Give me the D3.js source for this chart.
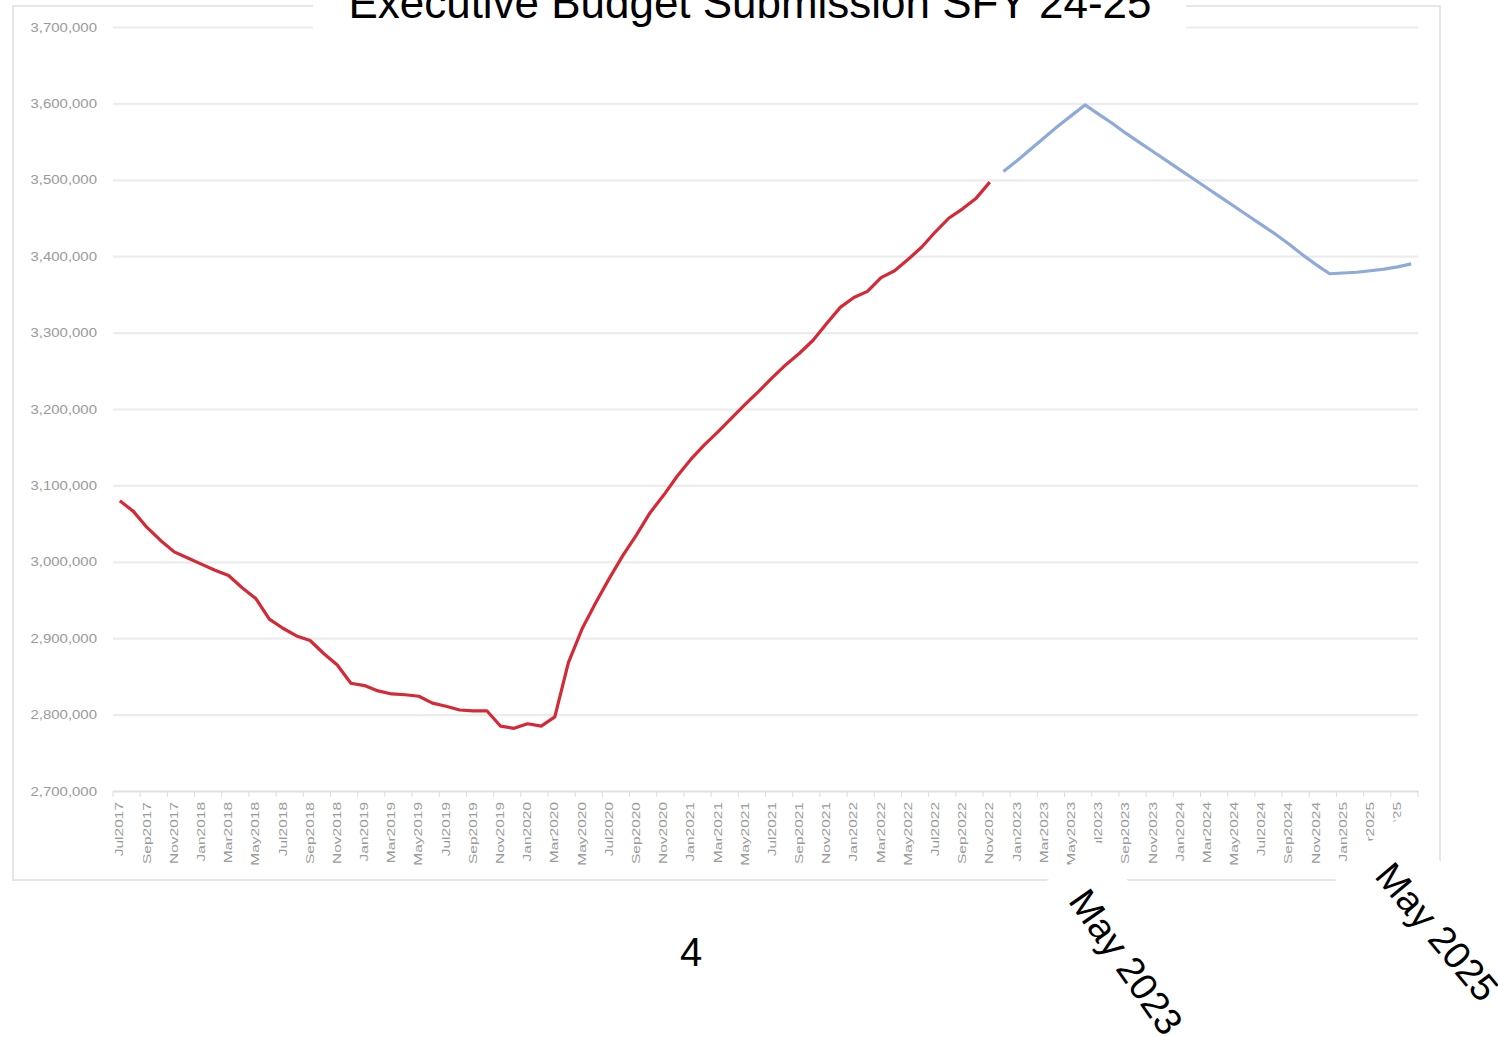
<!DOCTYPE html>
<html>
<head>
<meta charset="utf-8">
<script src="https://cdn.jsdelivr.net/npm/d3@7"></script>
<style>
  body { margin: 0; background: #fff; }
  svg { display: block; font-family: "Liberation Sans", Arial, sans-serif; }
</style>
</head>
<body>
<svg id="chart" width="1498" height="1037"></svg>
<script>
// categories, one row per year
const months = [
  'Jul2017','Aug2017','Sep2017','Oct2017','Nov2017','Dec2017',
  'Jan2018','Feb2018','Mar2018','Apr2018','May2018','Jun2018','Jul2018','Aug2018','Sep2018','Oct2018','Nov2018','Dec2018',
  'Jan2019','Feb2019','Mar2019','Apr2019','May2019','Jun2019','Jul2019','Aug2019','Sep2019','Oct2019','Nov2019','Dec2019',
  'Jan2020','Feb2020','Mar2020','Apr2020','May2020','Jun2020','Jul2020','Aug2020','Sep2020','Oct2020','Nov2020','Dec2020',
  'Jan2021','Feb2021','Mar2021','Apr2021','May2021','Jun2021','Jul2021','Aug2021','Sep2021','Oct2021','Nov2021','Dec2021',
  'Jan2022','Feb2022','Mar2022','Apr2022','May2022','Jun2022','Jul2022','Aug2022','Sep2022','Oct2022','Nov2022','Dec2022',
  'Jan2023','Feb2023','Mar2023','Apr2023','May2023','Jun2023','Jul2023','Aug2023','Sep2023','Oct2023','Nov2023','Dec2023',
  'Jan2024','Feb2024','Mar2024','Apr2024','May2024','Jun2024','Jul2024','Aug2024','Sep2024','Oct2024','Nov2024','Dec2024',
  'Jan2025','Feb2025','Mar2025','Apr2025','May2025','Jun2025'
];

// actual enrollment, Jul2017 - Nov2022
const actual = [
  3080000,3066000,3045000,3028000,3013000,3005000,2997000,2989000,2982000,2966000,
  2952000,2925000,2913000,2903000,2897000,2880000,2865000,2841000,2838000,2831000,
  2827000,2826000,2824000,2815000,2811000,2806000,2805000,2805000,2785000,2782000,
  2788000,2785000,2797000,2868000,2912000,2946000,2978000,3008000,3035000,3064000,
  3087000,3112000,3134000,3153000,3170000,3188000,3206000,3223000,3241000,3258000,
  3273000,3290000,3312000,3333000,3346000,3354000,3372000,3381000,3396000,3412000,
  3432000,3450000,3462000,3476000,3497000
];

// projection, Dec2022 - Jun2025
const projected = [
  3511000,3525000,3540000,3555000,3570000,3584000,3598000,3586000,3574000,3561000,
  3549000,3537000,3525000,3513000,3501000,3489000,3477000,3465000,3453000,3441000,
  3429000,3416000,3402000,3389000,3377000,3378000,3379000,3381000,3383000,3386000,
  3390000
];

const yTicks = [2700000,2800000,2900000,3000000,3100000,3200000,3300000,3400000,3500000,3600000,3700000];

const title = 'Executive Budget Submission SFY 24-25';
const notes = [
  { text: 'May 2023', x: 1126, y: 962, angle: 55 },
  { text: 'May 2025', x: 1437, y: 932, angle: 50 }
];
const pageNo = '4';

const svg = d3.select('#chart');

const x = d3.scaleBand().domain(months).range([113, 1418]);
const y = d3.scaleLinear().domain([2700000, 3700000]).range([791, 27]);
const cx = d => x(d) + x.bandwidth() / 2;

// chart frame
svg.append('rect')
  .attr('x', 13).attr('y', 6)
  .attr('width', 1427).attr('height', 874)
  .attr('fill', '#fff')
  .attr('stroke', '#e6e6e6')
  .attr('stroke-width', 2);

// gridlines
const grid = svg.append('g')
  .attr('transform', 'translate(113,0)')
  .call(d3.axisLeft(y).tickValues(yTicks.slice(1)).tickSize(-(1418 - 113)).tickFormat(''));
grid.select('.domain').remove();
grid.selectAll('line').attr('stroke', '#ececec').attr('stroke-width', 2.2);

// y labels
const yAxis = svg.append('g')
  .attr('transform', 'translate(97,0)')
  .call(d3.axisLeft(y).tickValues(yTicks).tickSize(0).tickPadding(0).tickFormat(d3.format(',')));
yAxis.select('.domain').remove();
yAxis.selectAll('text')
  .attr('fill', '#9a9a9a')
  .attr('font-size', 13)
  .attr('font-family', '"Liberation Sans", Arial, sans-serif')
  .attr('transform', 'scale(1.15,1)');

// x axis
const xAxis = svg.append('g')
  .attr('transform', 'translate(0,791)')
  .call(d3.axisBottom(x)
    .tickValues(months.filter((m, i) => i % 2 === 0))
    .tickSize(0).tickSizeOuter(0).tickPadding(0));
xAxis.select('.domain').attr('stroke', '#e2e2e2').attr('stroke-width', 2);
xAxis.selectAll('text')
  .attr('fill', '#9a9a9a')
  .attr('font-size', 10)
  .attr('font-family', '"Liberation Sans", Arial, sans-serif')
  .attr('text-anchor', 'end')
  .attr('y', 0).attr('dy', 0)
  .attr('transform', 'translate(3.6,11) rotate(-90) scale(1.55,1)');

// tick marks sit between categories, every second one
const tickEdges = months.filter((m, i) => i % 2 === 0).map(m => x(m)).concat([x.range()[1]]);
svg.append('g')
  .selectAll('line')
  .data(tickEdges)
  .enter()
  .append('line')
  .attr('x1', d => d).attr('x2', d => d)
  .attr('y1', 791).attr('y2', 797)
  .attr('stroke', '#dcdcdc')
  .attr('stroke-width', 1);

// lines
const line = d3.line()
  .x(d => cx(d.m))
  .y(d => y(d.v));

const actualPts = actual.map((v, i) => ({ m: months[i], v }));
const projPts = projected.map((v, i) => ({ m: months[actual.length + i], v }));

svg.append('path')
  .datum(actualPts)
  .attr('d', line)
  .attr('fill', 'none')
  .attr('stroke', '#d62936')
  .attr('stroke-width', 3.2)
  .attr('stroke-linejoin', 'round');

svg.append('path')
  .datum(projPts)
  .attr('d', line)
  .attr('fill', 'none')
  .attr('stroke', '#8eaadb')
  .attr('stroke-width', 3.2)
  .attr('stroke-linejoin', 'round');

// title box covers the top of the frame
svg.append('rect')
  .attr('x', 313).attr('y', 0)
  .attr('width', 873).attr('height', 31)
  .attr('fill', '#fff');
svg.append('text')
  .attr('x', 750).attr('y', 18)
  .attr('text-anchor', 'middle')
  .attr('font-size', 44)
  .attr('textLength', 803)
  .attr('lengthAdjust', 'spacingAndGlyphs')
  .attr('fill', '#000')
  .text(title);

// rotated notes with white boxes
const note = svg.selectAll('g.note')
  .data(notes)
  .enter()
  .append('g')
  .classed('note', true)
  .attr('transform', d => `translate(${d.x},${d.y}) rotate(${d.angle})`);
note.append('rect')
  .attr('x', -112).attr('y', -48)
  .attr('width', 227).attr('height', 92)
  .attr('fill', '#fff');
note.append('text')
  .attr('text-anchor', 'middle')
  .attr('dy', 13)
  .attr('font-size', 38)
  .attr('fill', '#000')
  .text(d => d.text);

svg.append('text')
  .attr('x', 691).attr('y', 966)
  .attr('text-anchor', 'middle')
  .attr('font-size', 40)
  .attr('fill', '#000')
  .text(pageNo);
</script>
</body>
</html>
